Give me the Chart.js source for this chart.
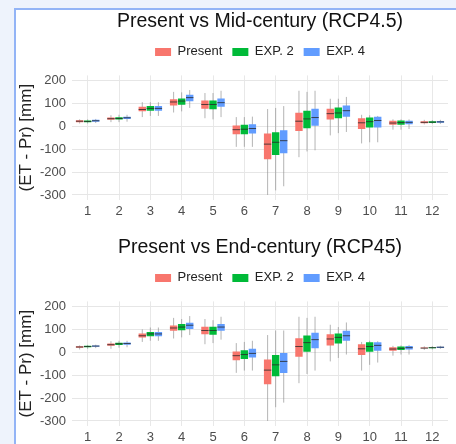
<!DOCTYPE html>
<html>
<head>
<meta charset="utf-8">
<script src="https://cdn.jsdelivr.net/npm/chart.js@4.4.1/dist/chart.umd.min.js"></script>
<style>
html, body { margin: 0; padding: 0; background: #eef3fc; }
body { width: 456px; height: 444px; position: relative; overflow: hidden; }
#frame {
    position: absolute; left: 14px; top: 8px; width: 440px; height: 434px;
    border-left: 2px solid #93b4f6; border-top: 2px solid #93b4f6; background: #fff;
}
canvas { position: absolute; left: 0; }
</style>
</head>
<body>
<div id="frame">
    <canvas id="mid-chart" width="440" height="208" style="top:0"></canvas>
    <canvas id="end-chart" width="440" height="208" style="top:226px"></canvas>
</div>
<script>
const months = ['1', '2', '3', '4', '5', '6', '7', '8', '9', '10', '11', '12'];
const seriesNames = ['Present', 'EXP. 2', 'EXP. 4'];
const seriesColors = ['#F8766D', '#00BA38', '#619CFF'];
const yTicks = [-300, -200, -100, 0, 100, 200];

// [lower whisker, q1, median, q3, upper whisker] per month
const midPresent = [
    [12, 18, 22, 26, 30], [18, 28, 33, 38, 48], [40, 65, 73, 85, 105], [60, 91, 106, 118, 150],
    [35, 76, 95, 112, 145], [-90, -35, -15, 3, 40], [-300, -144, -78, -32, 75], [-135, -21, 22, 59, 155],
    [-40, 29, 55, 76, 120], [-75, -12, 15, 35, 50], [-15, 6, 14, 24, 30], [8, 13, 17, 22, 28]
];
const midExp2 = [
    [12, 17, 21, 25, 30], [18, 29, 34, 39, 50], [45, 68, 78, 88, 105], [65, 94, 110, 121, 148],
    [30, 74, 95, 112, 145], [-90, -35, -13, 6, 40], [-280, -126, -70, -26, 80], [-110, -9, 32, 68, 150],
    [-30, 35, 58, 82, 120], [-70, -6, 20, 38, 48], [-15, 6, 16, 25, 30], [10, 14, 18, 22, 27]
];
const midExp4 = [
    [14, 20, 24, 28, 32], [20, 32, 37, 41, 50], [45, 68, 78, 88, 105], [80, 109, 125, 138, 158],
    [40, 85, 103, 121, 155], [-90, -32, -10, 9, 42], [-262, -118, -63, -18, 88], [-105, 0, 38, 76, 155],
    [-25, 41, 68, 91, 128], [-70, -6, 25, 41, 45], [-12, 9, 17, 24, 30], [10, 15, 19, 23, 28]
];
const endPresent = [
    [12, 20, 23, 26, 30], [15, 28, 33, 38, 48], [45, 64, 72, 82, 100], [60, 94, 106, 117, 150],
    [35, 79, 95, 111, 145], [-90, -35, -15, 3, 40], [-300, -140, -78, -32, 75], [-135, -20, 25, 61, 155],
    [-40, 29, 58, 79, 120], [-80, -12, 15, 35, 45], [-15, 7, 14, 22, 28], [10, 17, 18, 21, 26]
];
const endExp2 = [
    [15, 22, 25, 28, 32], [20, 32, 37, 42, 50], [50, 70, 80, 88, 108], [65, 96, 110, 123, 145],
    [40, 76, 95, 111, 140], [-80, -29, -10, 9, 45], [-240, -105, -55, -12, 95], [-95, 0, 42, 73, 150],
    [-25, 38, 65, 82, 110], [-55, 0, 25, 44, 50], [-10, 10, 17, 25, 30], [12, 18, 20, 22, 27]
];
const endExp4 = [
    [18, 24, 27, 30, 33], [22, 33, 38, 43, 50], [50, 70, 80, 88, 108], [75, 102, 118, 129, 158],
    [55, 94, 110, 123, 155], [-80, -23, -5, 15, 50], [-220, -91, -40, -3, 95], [-80, 18, 55, 85, 155],
    [-10, 50, 72, 94, 130], [-45, 6, 30, 44, 48], [-10, 12, 20, 27, 32], [15, 19, 22, 24, 28]
];

const FONT = "'Liberation Sans', Arial, sans-serif";

// whiskers behind the boxes, medians on top
const boxWhiskers = {
    id: 'boxWhiskers',
    beforeInit(chart) {
        const fit = chart.legend.fit;
        chart.legend.fit = function () { fit.call(this); this.height += 7; };
    },
    beforeDatasetsDraw(chart) {
        const ctx = chart.ctx, y = chart.scales.y;
        ctx.save();
        ctx.strokeStyle = 'rgba(140,140,140,0.65)';
        ctx.lineWidth = 1;
        chart.data.datasets.forEach((ds, di) => {
            chart.getDatasetMeta(di).data.forEach((bar, i) => {
                const s = ds.stats[i];
                ctx.beginPath();
                ctx.moveTo(bar.x, y.getPixelForValue(s[0]));
                ctx.lineTo(bar.x, y.getPixelForValue(s[4]));
                ctx.stroke();
            });
        });
        ctx.restore();
    },
    afterDatasetsDraw(chart) {
        const ctx = chart.ctx, y = chart.scales.y;
        ctx.save();
        ctx.strokeStyle = 'rgba(40,40,40,0.8)';
        ctx.lineWidth = 1;
        chart.data.datasets.forEach((ds, di) => {
            chart.getDatasetMeta(di).data.forEach((bar, i) => {
                const py = y.getPixelForValue(ds.stats[i][2]);
                ctx.beginPath();
                ctx.moveTo(bar.x - bar.width / 2, py);
                ctx.lineTo(bar.x + bar.width / 2, py);
                ctx.stroke();
            });
        });
        ctx.restore();
    }
};

const makeChart = (id, title, groups) => {
    new Chart(document.getElementById(id), {
        type: 'bar',
        data: {
            labels: months,
            datasets: groups.map((stats, k) => ({
                label: seriesNames[k],
                data: stats.map(s => [s[1], s[3]]),
                stats,
                backgroundColor: seriesColors[k],
                borderWidth: 0,
                categoryPercentage: 0.77,
                barPercentage: 0.92
            }))
        },
        options: {
            responsive: false,
            animation: false,
            layout: { padding: { left: 0, right: 8, top: 0, bottom: 0 } },
            plugins: {
                title: {
                    display: true, text: title, fullSize: false, color: '#111',
                    font: { family: FONT, size: 19.5, weight: 'normal' },
                    padding: { top: 0, bottom: 2 }
                },
                legend: {
                    fullSize: false,
                    labels: {
                        color: '#222', boxWidth: 16, boxHeight: 8, padding: 10,
                        font: { family: FONT, size: 13 }
                    }
                },
                tooltip: { enabled: false }
            },
            scales: {
                x: {
                    grid: { offset: false, color: '#e8e8e8', drawTicks: false },
                    border: { display: false },
                    ticks: { color: '#4d4d4d', padding: 4, font: { family: FONT, size: 13 } },
                    afterFit: s => { s.height = 18; }
                },
                y: {
                    min: -322, max: 222,
                    grid: {
                        drawTicks: false,
                        color: c => yTicks.includes(c.tick.value) ? '#e6e6e6' : '#f3f3f3'
                    },
                    border: { display: false },
                    ticks: {
                        stepSize: 50, includeBounds: false, padding: 6, color: '#4d4d4d',
                        font: { family: FONT, size: 13 },
                        callback: v => yTicks.includes(v) ? String(v) : ''
                    },
                    title: {
                        display: true, text: '(ET - Pr) [mm]', color: '#222',
                        font: { family: FONT, size: 17 }, padding: { top: 0, bottom: 0 }
                    },
                    afterFit: s => { s.width = 56; }
                }
            }
        },
        plugins: [boxWhiskers]
    });
};

makeChart('mid-chart', 'Present vs Mid-century (RCP4.5)', [midPresent, midExp2, midExp4]);
makeChart('end-chart', 'Present vs End-century (RCP45)', [endPresent, endExp2, endExp4]);
</script>
</body>
</html>
